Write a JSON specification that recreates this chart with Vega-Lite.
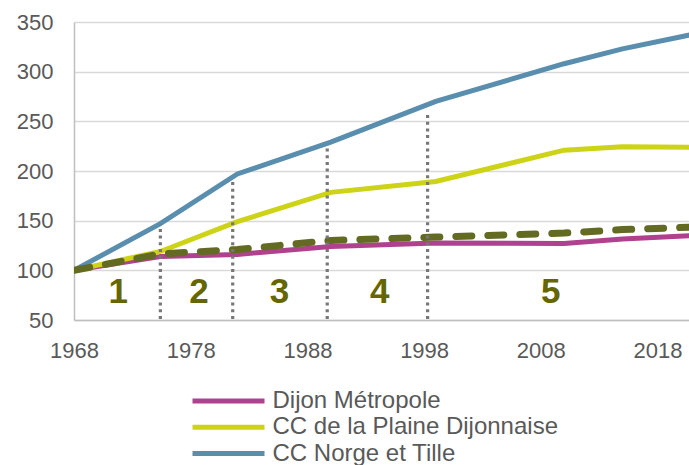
{
  "$schema": "https://vega.github.io/schema/vega-lite/v6.json",
  "width": 615,
  "height": 298,
  "autosize": {"type": "none"},
  "padding": {"left": 74, "top": 22, "right": 0, "bottom": 145},
  "config": {
    "font": "Liberation Sans",
    "view": {"stroke": null},
    "axis": {
      "labelFont": "Liberation Sans",
      "labelFontSize": 22,
      "labelColor": "#595959",
      "ticks": false,
      "domainColor": "#bfbfbf",
      "domainWidth": 1.5,
      "title": null,
      "labelOverlap": false
    }
  },
  "datasets": {
    "series": [
      {"serie": "Dijon Métropole", "annee": 1968, "indice": 100},
      {"serie": "Dijon Métropole", "annee": 1975.4, "indice": 114},
      {"serie": "Dijon Métropole", "annee": 1982, "indice": 116},
      {"serie": "Dijon Métropole", "annee": 1990, "indice": 124},
      {"serie": "Dijon Métropole", "annee": 1999, "indice": 127.5},
      {"serie": "Dijon Métropole", "annee": 2010, "indice": 127},
      {"serie": "Dijon Métropole", "annee": 2015, "indice": 131.5},
      {"serie": "Dijon Métropole", "annee": 2021, "indice": 135},
      {"serie": "CC de la Plaine Dijonnaise", "annee": 1968, "indice": 100},
      {"serie": "CC de la Plaine Dijonnaise", "annee": 1975.4, "indice": 119},
      {"serie": "CC de la Plaine Dijonnaise", "annee": 1982, "indice": 149},
      {"serie": "CC de la Plaine Dijonnaise", "annee": 1990, "indice": 178.5},
      {"serie": "CC de la Plaine Dijonnaise", "annee": 1999, "indice": 189.5},
      {"serie": "CC de la Plaine Dijonnaise", "annee": 2010, "indice": 221},
      {"serie": "CC de la Plaine Dijonnaise", "annee": 2015, "indice": 224.5},
      {"serie": "CC de la Plaine Dijonnaise", "annee": 2021, "indice": 224},
      {"serie": "CC Norge et Tille", "annee": 1968, "indice": 100},
      {"serie": "CC Norge et Tille", "annee": 1975.4, "indice": 147},
      {"serie": "CC Norge et Tille", "annee": 1982, "indice": 197},
      {"serie": "CC Norge et Tille", "annee": 1990, "indice": 229},
      {"serie": "CC Norge et Tille", "annee": 1999, "indice": 270},
      {"serie": "CC Norge et Tille", "annee": 2010, "indice": 308},
      {"serie": "CC Norge et Tille", "annee": 2015, "indice": 323},
      {"serie": "CC Norge et Tille", "annee": 2021, "indice": 337.5}
    ],
    "reference": [
      {"annee": 1968, "indice": 100},
      {"annee": 1975.4, "indice": 116.5},
      {"annee": 1982, "indice": 121},
      {"annee": 1990, "indice": 130},
      {"annee": 1999, "indice": 133.5},
      {"annee": 2010, "indice": 137.5},
      {"annee": 2015, "indice": 141},
      {"annee": 2021, "indice": 143.5}
    ],
    "periodes": [
      {"annee": 1975.4, "bas": 51, "haut": 146},
      {"annee": 1981.6, "bas": 51, "haut": 192},
      {"annee": 1989.7, "bas": 51, "haut": 226},
      {"annee": 1998.3, "bas": 51, "haut": 259}
    ],
    "numeros": [
      {"annee": 1971.8, "indice": 78, "num": "1"},
      {"annee": 1978.7, "indice": 78, "num": "2"},
      {"annee": 1985.6, "indice": 78, "num": "3"},
      {"annee": 1994.2, "indice": 78, "num": "4"},
      {"annee": 2008.85, "indice": 78, "num": "5"}
    ]
  },
  "layer": [
    {
      "data": {"name": "series"},
      "mark": {"type": "line", "strokeWidth": 5, "clip": true},
      "encoding": {
        "x": {
          "field": "annee",
          "type": "quantitative",
          "scale": {"domain": [1968, 2020.7], "nice": false, "zero": false},
          "axis": {
            "values": [1968, 1978, 1988, 1998, 2008, 2018],
            "format": "d",
            "labelFlush": false,
            "labelPadding": 20,
            "grid": false
          }
        },
        "y": {
          "field": "indice",
          "type": "quantitative",
          "scale": {"domain": [50, 350], "nice": false, "zero": false},
          "axis": {
            "values": [50, 100, 150, 200, 250, 300, 350],
            "labelPadding": 21,
            "grid": true,
            "gridColor": "#d9d9d9",
            "gridWidth": 1.5
          }
        },
        "color": {
          "field": "serie",
          "type": "nominal",
          "scale": {
            "domain": ["Dijon Métropole", "CC de la Plaine Dijonnaise", "CC Norge et Tille"],
            "range": ["#b0418e", "#cdd417", "#5a8eae"]
          },
          "legend": {
            "title": null,
            "orient": "none",
            "legendX": 142.5,
            "legendY": 367,
            "symbolType": "M-12,0H12",
            "symbolSize": 36,
            "symbolStrokeWidth": 5,
            "labelOffset": 32,
            "labelLimit": 500,
            "labelFontSize": 24,
            "labelColor": "#595959",
            "labelFont": "Liberation Sans",
            "rowPadding": 2.3
          }
        }
      }
    },
    {
      "data": {"name": "reference"},
      "mark": {"type": "line", "strokeWidth": 7, "strokeDash": [16, 16], "strokeCap": "round", "color": "#636b23", "clip": true},
      "encoding": {
        "x": {"field": "annee", "type": "quantitative"},
        "y": {"field": "indice", "type": "quantitative"}
      }
    },
    {
      "data": {"name": "periodes"},
      "mark": {"type": "rule", "strokeWidth": 3.2, "strokeDash": [3, 3.7], "color": "#777777"},
      "encoding": {
        "x": {"field": "annee", "type": "quantitative"},
        "y": {"field": "bas", "type": "quantitative"},
        "y2": {"field": "haut"}
      }
    },
    {
      "data": {"name": "numeros"},
      "mark": {"type": "text", "fontSize": 35, "fontWeight": "bold", "color": "#666600", "baseline": "middle", "align": "center", "font": "Liberation Sans"},
      "encoding": {
        "x": {"field": "annee", "type": "quantitative"},
        "y": {"field": "indice", "type": "quantitative"},
        "text": {"field": "num"}
      }
    }
  ]
}
